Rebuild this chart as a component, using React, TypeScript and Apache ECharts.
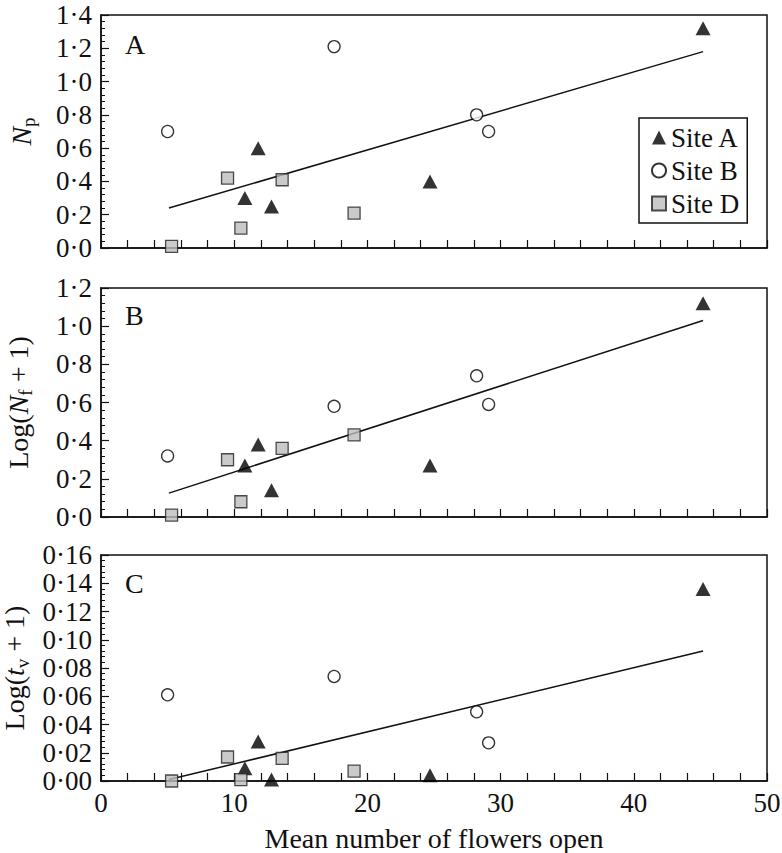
import React, { useEffect, useRef } from "react";
import * as echarts from "echarts";

// Mean number of flowers open (x) per site
const siteAFlowers = [10.8, 11.8, 12.8, 24.7, 45.2];
const siteBFlowers = [5.0, 17.5, 28.2, 29.1];
const siteDFlowers = [5.3, 9.5, 10.5, 13.6, 19.0];

// Panel A: Np
const siteANp = [0.3, 0.6, 0.25, 0.4, 1.32];
const siteBNp = [0.7, 1.21, 0.8, 0.7];
const siteDNp = [0.01, 0.42, 0.12, 0.41, 0.21];

// Panel B: Log(Nf + 1)
const siteANf = [0.27, 0.38, 0.14, 0.27, 1.12];
const siteBNf = [0.32, 0.58, 0.74, 0.59];
const siteDNf = [0.01, 0.3, 0.08, 0.36, 0.43];

// Panel C: Log(tv + 1)
const siteATv = [0.009, 0.028, 0.001, 0.004, 0.136];
const siteBTv = [0.061, 0.074, 0.049, 0.027];
const siteDTv = [0.0, 0.017, 0.001, 0.016, 0.007];

// Regression lines (end points)
const fitX = [5.1, 45.2];
const fitNp = [0.24, 1.18];
const fitNf = [0.125, 1.03];
const fitTv = [0.001, 0.092];

const xTicks = [0, 10, 20, 30, 40, 50];
const panelLetters = ["A", "B", "C"];
const siteNames = ["Site A", "Site B", "Site D"];

const FONT = "Liberation Serif, DejaVu Serif, serif";
const INK = "#111";

const zip = (xs: number[], ys: number[]) => xs.map((x, i) => [x, ys[i]]);

export default function App() {
  const ref = useRef<HTMLDivElement>(null);

  useEffect(() => {
    document.body.style.margin = "0";
    const chart = echarts.init(ref.current!, null, { renderer: "svg" });

    const grids = [
      { left: 101, top: 15, width: 666, height: 233 },
      { left: 101, top: 288, width: 666, height: 229 },
      { left: 101, top: 555, width: 666, height: 226 },
    ].map((g) => ({
      ...g,
      show: true,
      containLabel: false,
      outerBoundsMode: "none",
      borderColor: INK,
      borderWidth: 1.5,
      backgroundColor: "transparent",
    }));

    const xAxes = [0, 1, 2].map((i) => ({
      type: "value",
      gridIndex: i,
      min: xTicks[0],
      max: xTicks[xTicks.length - 1],
      interval: 10,
      axisLine: { show: true, lineStyle: { color: INK, width: 1.5 } },
      axisTick: { show: true, inside: true, length: 8, lineStyle: { color: INK, width: 1.2 } },
      minorTick: { show: true, splitNumber: 5, length: 8, lineStyle: { color: INK, width: 1.2 } },
      splitLine: { show: false },
      minorSplitLine: { show: false },
      axisLabel: {
        show: i === 2,
        fontFamily: FONT,
        fontSize: 27,
        color: INK,
        margin: 8,
      },
      name: i === 2 ? "Mean number of flowers open" : "",
      nameLocation: "middle",
      nameGap: 43,
      nameTextStyle: { fontFamily: FONT, fontSize: 28, color: INK },
    }));

    const rich = {
      r: { fontFamily: FONT, fontSize: 28, color: INK, lineHeight: 34, verticalAlign: "middle" },
      i: { fontFamily: FONT, fontSize: 28, color: INK, fontStyle: "italic", lineHeight: 34, verticalAlign: "middle" },
      s: { fontFamily: FONT, fontSize: 19, color: INK, verticalAlign: "bottom", lineHeight: 18 },
    };

    const yDefs = [
      { max: 1.4, interval: 0.2, digits: 1, name: "{i|N}{s|p}", gap: 63 },
      { max: 1.2, interval: 0.2, digits: 1, name: "{r|Log(}{i|N}{s|f}{r| + 1)}", gap: 66 },
      { max: 0.16, interval: 0.02, digits: 2, name: "{r|Log(}{i|t}{s|v}{r| + 1)}", gap: 66 },
    ];

    const yAxes = yDefs.map((d, i) => ({
      type: "value",
      gridIndex: i,
      min: 0,
      max: d.max,
      interval: d.interval,
      axisLine: { show: true, lineStyle: { color: INK, width: 1.5 } },
      axisTick: { show: true, inside: true, length: 8, lineStyle: { color: INK, width: 1.2 } },
      minorTick: { show: true, splitNumber: 5, length: 4, lineStyle: { color: INK, width: 1 } },
      splitLine: { show: false },
      minorSplitLine: { show: false },
      axisLabel: {
        fontFamily: FONT,
        fontSize: 27,
        lineHeight: 27,
        color: INK,
        margin: 9,
        showMinLabel: true,
        showMaxLabel: true,
        formatter: (v: number) => v.toFixed(d.digits).replace(".", "·"),
      },
      name: d.name,
      nameLocation: "middle",
      nameRotate: 90,
      nameGap: d.gap,
      nameTextStyle: { fontFamily: FONT, fontSize: 28, color: INK, rich },
    }));

    const triStyle = { color: "#000", borderColor: "#000", borderWidth: 0 };
    const circStyle = { color: "#fff", borderColor: "#000", borderWidth: 1.3 };
    const sqStyle = { color: "#bdbdbd", borderColor: "#222", borderWidth: 1.3 };

    const panels = [
      { a: siteANp, b: siteBNp, d: siteDNp, fit: fitNp },
      { a: siteANf, b: siteBNf, d: siteDNf, fit: fitNf },
      { a: siteATv, b: siteBTv, d: siteDTv, fit: fitTv },
    ];

    const series: any[] = [];
    panels.forEach((p, i) => {
      series.push({
        type: "line",
        name: "fit" + i,
        xAxisIndex: i,
        yAxisIndex: i,
        data: zip(fitX, p.fit),
        symbol: "none",
        lineStyle: { color: INK, width: 1.5 },
        z: 2,
        silent: true,
      });
      series.push({
        type: "scatter",
        name: siteNames[0],
        xAxisIndex: i,
        yAxisIndex: i,
        data: zip(siteAFlowers, p.a),
        symbol: "triangle",
        symbolSize: [15, 14],
        itemStyle: triStyle,
        z: 5,
        clip: false,
      });
      series.push({
        type: "scatter",
        name: siteNames[1],
        xAxisIndex: i,
        yAxisIndex: i,
        data: zip(siteBFlowers, p.b),
        symbol: "circle",
        symbolSize: 12,
        itemStyle: circStyle,
        z: 5,
        clip: false,
      });
      series.push({
        type: "scatter",
        name: siteNames[2],
        xAxisIndex: i,
        yAxisIndex: i,
        data: zip(siteDFlowers, p.d),
        symbol: "rect",
        symbolSize: 12,
        itemStyle: sqStyle,
        z: 5,
        clip: false,
      });
    });

    const letterY = [45, 316, 584];

    chart.setOption({
      animation: false,
      backgroundColor: "#fff",
      grid: grids,
      xAxis: xAxes,
      yAxis: yAxes,
      legend: {
        orient: "vertical",
        left: 639,
        top: 118,
        padding: [6, 8, 6, 12],
        itemGap: 6,
        itemWidth: 14,
        itemHeight: 14,
        borderColor: INK,
        borderWidth: 1.5,
        backgroundColor: "#fff",
        selectedMode: false,
        textStyle: { fontFamily: FONT, fontSize: 27, color: INK, padding: [0, 0, 0, 0] },
        data: [
          { name: siteNames[0], icon: "triangle" },
          { name: siteNames[1], icon: "circle" },
          { name: siteNames[2], icon: "rect" },
        ],
      },
      graphic: panelLetters.map((t, i) => ({
        type: "text",
        left: 125,
        top: letterY[i] - 15,
        style: { text: t, fontFamily: FONT, fontSize: 28, fill: INK },
        z: 10,
      })),
      series,
    });

    return () => chart.dispose();
  }, []);

  return <div ref={ref} style={{ width: 782, height: 853 }} />;
}
